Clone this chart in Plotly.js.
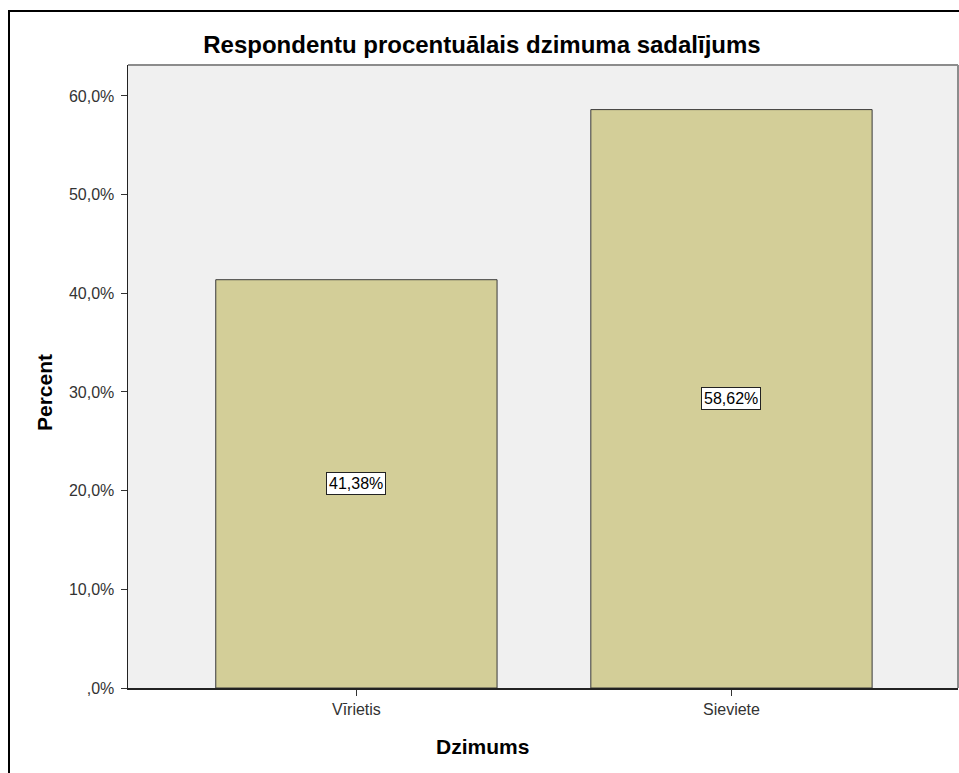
<!DOCTYPE html>
<html>
<head>
<meta charset="utf-8">
<script src="https://cdn.plot.ly/plotly-3.0.1.min.js"></script>
<style>
  html, body { margin: 0; padding: 0; background: #fff; overflow: hidden; }
  #chart { position: absolute; left: 0; top: 0; width: 959px; height: 773px; }
  #frame { position: absolute; left: 8px; top: 10px; width: 1000px; height: 800px;
           border: 2px solid #000; pointer-events: none; }
</style>
</head>
<body>
<div id="chart"></div>
<div id="frame"></div>
<script>
const categories = ['Vīrietis', 'Sieviete'];
const percents = [41.38, 58.62];
const percentLabels = ['41,38%', '58,62%'];
const yTickVals = [0, 10, 20, 30, 40, 50, 60];
const yTickText = [',0%', '10,0%', '20,0%', '30,0%', '40,0%', '50,0%', '60,0%'];
const chartTitle = 'Respondentu procentuālais dzimuma sadalījums';
const xTitle = 'Dzimums';
const yTitle = 'Percent';

const font = 'Arial, "Liberation Sans", sans-serif';

const trace = {
  type: 'bar',
  x: [0, 1],
  y: percents,
  width: 0.75,
  marker: { color: '#d3ce98', line: { color: '#3a3a3a', width: 1 } },
  hoverinfo: 'none'
};

const annotations = percents.map((v, i) => ({
  x: i, y: v / 2, xref: 'x', yref: 'y',
  text: percentLabels[i], showarrow: false,
  font: { family: font, size: 16, color: '#000' },
  bgcolor: '#fff', bordercolor: '#222', borderwidth: 1, borderpad: 2
}));

annotations.push({
  xref: 'paper', yref: 'paper', x: (482 - 128) / 830, y: -(746 - 688) / 623,
  text: '<b>' + xTitle + '</b>', showarrow: false, xanchor: 'center', yanchor: 'middle',
  font: { family: font, size: 21, color: '#000' }
});
annotations.push({
  xref: 'paper', yref: 'paper', x: (44 - 128) / 830, y: (688 - 393) / 623,
  text: '<b>' + yTitle + '</b>', showarrow: false, textangle: -90,
  xanchor: 'center', yanchor: 'middle',
  font: { family: font, size: 21, color: '#000' }
});

const layout = {
  width: 959, height: 773,
  margin: { l: 128, r: 1, t: 65, b: 85 },
  paper_bgcolor: '#ffffff',
  plot_bgcolor: '#f0f0f0',
  showlegend: false,
  title: {
    text: '<b>' + chartTitle + '</b>',
    font: { family: font, size: 24, color: '#000' },
    xref: 'container', yref: 'container',
    x: 482 / 959, y: 1 - 45 / 773, xanchor: 'center', yanchor: 'middle'
  },
  xaxis: {
    range: [-0.609, 1.604],
    tickvals: [0, 1], ticktext: categories,
    ticks: 'outside', ticklen: 6, tickwidth: 1, tickcolor: '#333',
    showgrid: false, zeroline: false,
    showline: true, linecolor: '#222', linewidth: 1.5,
    tickfont: { family: font, size: 16, color: '#333' },
    fixedrange: true
  },
  yaxis: {
    range: [0, 63.14],
    tickvals: yTickVals, ticktext: yTickText,
    ticks: 'outside', ticklen: 6, tickwidth: 1, tickcolor: '#333',
    ticklabelstandoff: 3,
    showgrid: false, zeroline: false,
    showline: true, linecolor: '#222', linewidth: 1.5,
    tickfont: { family: font, size: 16, color: '#333' },
    fixedrange: true
  },
  shapes: [
    { type: 'line', xref: 'paper', yref: 'paper', x0: 0, x1: 1, y0: 1, y1: 1,
      line: { color: '#8c8c8c', width: 2 } },
    { type: 'line', xref: 'paper', yref: 'paper', x0: 1, x1: 1, y0: 0, y1: 1,
      line: { color: '#8c8c8c', width: 2 } }
  ],
  annotations: annotations,
  bargap: 0
};

Plotly.newPlot('chart', [trace], layout, { displayModeBar: false, staticPlot: true });
</script>
</body>
</html>
